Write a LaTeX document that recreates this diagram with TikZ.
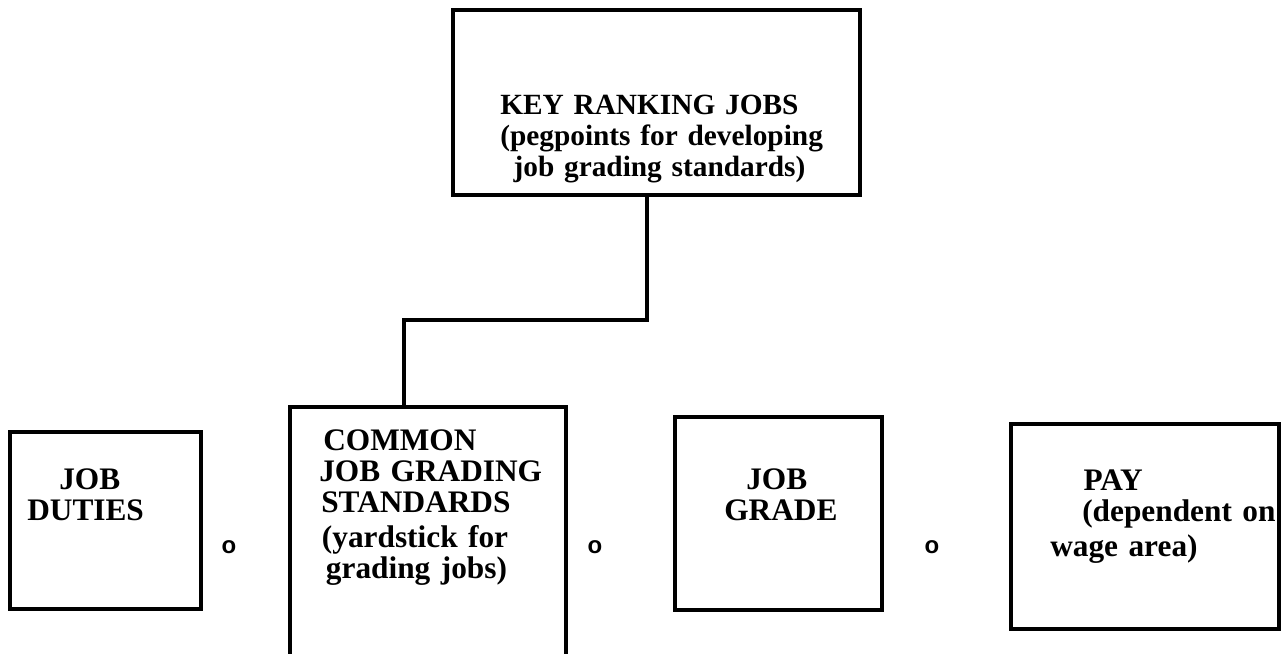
\documentclass[tikz,border=0pt]{standalone}
\usepackage{fontspec}
\setmainfont{Liberation Serif}
\newfontfamily\ringfont{Liberation Sans}
\usetikzlibrary{positioning,fit,calc}

\begin{document}
\begin{tikzpicture}[
    x=0.75pt, y=-0.75pt,
    every fit/.style={draw,rectangle,inner sep=0pt,line width=2.4pt},
    caption/.style={anchor=base west,inner sep=0pt,text width=300pt,align=left,
        font=\fontsize{23.5}{23.25}\selectfont\bfseries},
    ring/.style={inner sep=0pt,font=\ringfont\fontsize{18}{18}\selectfont\bfseries},
    link/.style={line width=3pt}
  ]
  \clip (0,0) rectangle (1283,654);

  % Draw boxes %
  \node[fit={(453,10) (860,195)}] (key) {};
  \node[fit={(10,432) (201,609)}] (duties) {};
  \node[fit={(290,407) (566,690)}] (std) {};
  \node[fit={(675,417) (882,610)}] (grade) {};
  \node[fit={(1011,424) (1279,629)}] (pay) {};

  % Draw texts %
  \node[caption,font=\fontsize{22}{23.25}\selectfont\bfseries] (keytext) at (500,114)
    {KEY RANKING JOBS\\(pegpoints for developing\\\hspace*{10pt}job grading standards)};
  \node[caption] (dutiestext) at (27,489) {\hspace*{24pt}JOB\\DUTIES};
  \node[caption] (stdtext) at (319,450) {\hspace*{3pt}COMMON\\JOB GRADING\\\hspace*{1.5pt}STANDARDS\\[3pt]\hspace*{2pt}(yardstick for\\\hspace*{5pt}grading jobs)};
  \node[caption] (gradetext) at (724,489) {\hspace*{16.5pt}JOB\\GRADE};
  \node[caption] (paytext) at (1050,490) {\hspace*{25pt}PAY\\\hspace*{24pt}(dependent on\\[3pt]wage area)};

  % Draw rings %
  \node[ring] (ring1) at (229,547) {o};
  \node[ring] (ring2) at (595,547) {o};
  \node[ring] (ring3) at (932,547) {o};

  % Draw connector %
  \coordinate (turnA) at (647,320);
  \coordinate (turnB) at (404,320);
  \draw[link] (key.south -| turnA) -- (turnA) -- (turnB) -- (std.north -| turnB);
\end{tikzpicture}
\end{document}
